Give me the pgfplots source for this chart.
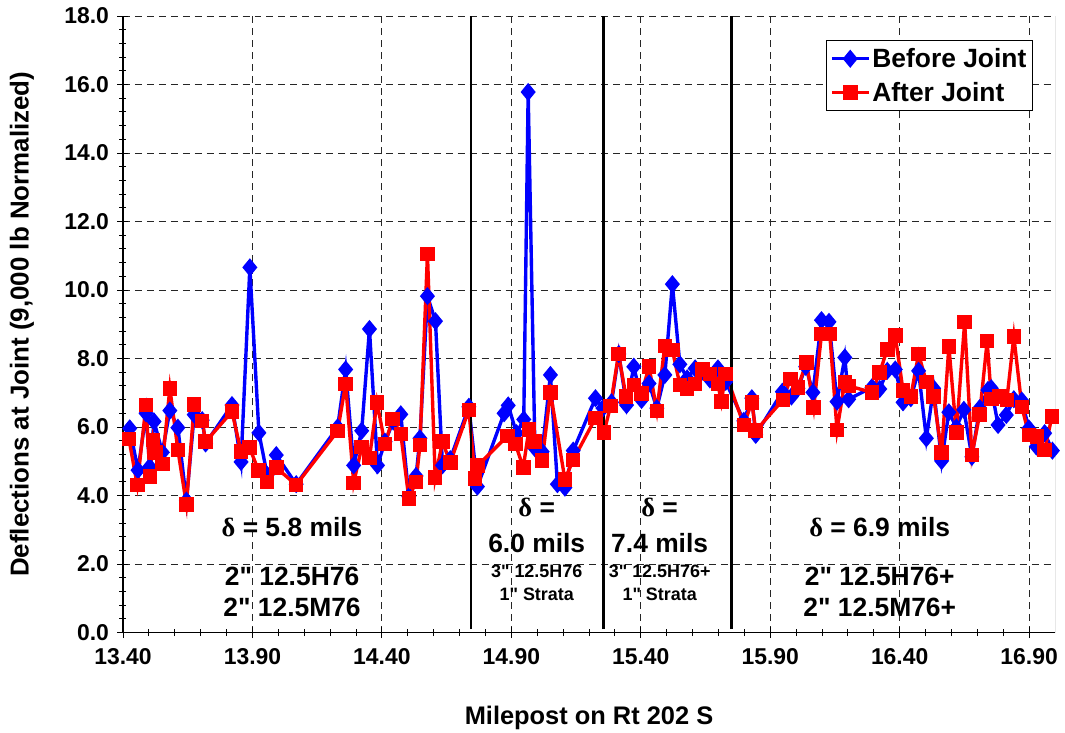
\documentclass[border=0pt]{standalone}
\usepackage{pgfplots}
\pgfplotsset{compat=1.18}
\usepackage{fontspec}
\setmainfont{Liberation Sans}
\newfontfamily\greek{Liberation Serif}
\definecolor{bl}{RGB}{0,0,255}
\definecolor{rd}{RGB}{255,0,0}

\pgfplotstableread{
x y
13.426 5.96
13.458 4.74
13.489 6.40
13.503 4.84
13.520 6.16
13.552 5.26
13.581 6.48
13.612 5.98
13.645 3.85
13.675 6.36
13.706 6.20
13.719 5.52
13.821 6.64
13.856 4.98
13.890 10.66
13.925 5.83
13.957 4.60
13.992 5.18
14.069 4.33
14.229 5.99
14.260 7.68
14.291 4.88
14.322 5.89
14.352 8.86
14.383 4.88
14.412 5.57
14.444 6.16
14.473 6.37
14.504 3.97
14.532 4.57
14.547 5.67
14.576 9.82
14.607 9.09
14.634 4.88
14.664 5.06
14.736 6.59
14.769 4.26
14.872 6.40
14.888 6.63
14.920 5.82
14.948 6.22
14.965 15.78
14.991 5.38
15.019 5.28
15.051 7.52
15.078 4.33
15.107 4.23
15.139 5.31
15.225 6.84
15.254 6.55
15.287 6.72
15.315 8.13
15.345 6.64
15.373 7.76
15.403 6.79
15.432 7.27
15.462 6.55
15.493 7.52
15.522 10.17
15.551 7.83
15.579 7.42
15.610 7.71
15.638 7.62
15.667 7.39
15.698 7.71
15.728 7.32
15.798 6.18
15.829 6.84
15.844 5.77
15.947 7.03
15.982 6.89
16.007 7.13
16.037 7.76
16.065 7.01
16.098 9.12
16.127 9.07
16.158 6.74
16.188 8.03
16.203 6.81
16.293 7.16
16.323 7.11
16.352 7.64
16.383 7.68
16.413 6.72
16.443 6.84
16.473 7.64
16.503 5.67
16.531 7.13
16.562 5.01
16.590 6.43
16.619 5.99
16.648 6.50
16.679 5.13
16.709 6.55
16.741 7.08
16.754 7.13
16.780 6.06
16.812 6.35
16.841 6.81
16.872 6.77
16.899 5.96
16.928 5.43
16.960 5.82
16.990 5.31
}\before

\pgfplotstableread{
x y
13.423 5.65
13.455 4.31
13.489 6.64
13.504 4.55
13.516 5.62
13.525 5.25
13.552 4.92
13.581 7.13
13.612 5.33
13.645 3.74
13.675 6.66
13.706 6.18
13.719 5.57
13.821 6.45
13.856 5.28
13.889 5.40
13.923 4.73
13.956 4.40
13.992 4.81
14.069 4.31
14.229 5.88
14.260 7.26
14.291 4.37
14.322 5.41
14.352 5.10
14.381 6.72
14.412 5.50
14.441 6.23
14.473 5.80
14.504 3.92
14.532 4.40
14.547 5.47
14.576 11.05
14.606 4.52
14.634 5.57
14.664 4.96
14.736 6.50
14.760 4.50
14.770 4.87
14.885 5.74
14.916 5.50
14.946 4.82
14.968 5.93
14.991 5.57
15.019 5.02
15.051 7.01
15.107 4.47
15.139 5.04
15.225 6.26
15.258 5.84
15.283 6.61
15.314 8.13
15.343 6.89
15.374 7.23
15.403 6.98
15.432 7.76
15.462 6.47
15.493 8.37
15.522 8.25
15.551 7.23
15.579 7.13
15.610 7.25
15.638 7.68
15.667 7.55
15.698 7.26
15.711 6.74
15.728 7.55
15.798 6.06
15.829 6.72
15.844 5.89
15.949 6.79
15.978 7.40
16.007 7.16
16.040 7.89
16.068 6.57
16.098 8.71
16.130 8.71
16.158 5.91
16.188 7.32
16.203 7.20
16.293 7.01
16.323 7.59
16.352 8.27
16.383 8.67
16.413 7.06
16.443 6.89
16.473 8.13
16.503 7.32
16.531 6.89
16.562 5.25
16.590 8.35
16.619 5.84
16.651 9.06
16.679 5.18
16.709 6.37
16.738 8.51
16.754 6.82
16.786 6.89
16.814 6.79
16.841 8.64
16.872 6.59
16.899 5.77
16.930 5.72
16.960 5.33
16.988 6.30
}\after

\begin{document}
\begin{tikzpicture}
\begin{axis}[name=ax, scale only axis, width=932bp, height=616.5bp,
  xmin=13.4, xmax=17.0, ymin=0, ymax=18,
  xtick={13.4,13.9,14.4,14.9,15.4,15.9,16.4,16.9},
  ytick={0,2,4,6,8,10,12,14,16,18},
  minor x tick num=4, minor y tick num=4,
  axis x line*=bottom, axis y line*=left,
  axis line style={-, black, line width=1.2pt},
  grid=major,
  major grid style={black!85, line width=0.8pt, dash pattern=on 7pt off 5pt},
  tick align=center, major tick length=11bp, minor tick length=7bp,
  tick style={black, line width=0.8pt},
  /pgf/number format/assume math mode=true,
  xticklabel style={font=\bfseries\fontsize{23}{27}\selectfont, yshift=-7bp, /pgf/number format/.cd, fixed, fixed zerofill, precision=2},
  yticklabel style={font=\bfseries\fontsize{23}{27}\selectfont, xshift=-5bp, /pgf/number format/.cd, fixed, fixed zerofill, precision=1},
  xlabel={Milepost on Rt 202 S},
  xlabel style={font=\bfseries\fontsize{25.5}{30}\selectfont, at={(axis description cs:0.5,-0.1387)}, anchor=center},
  ylabel={Deflections at Joint (9,000 lb Normalized)},
  ylabel style={font=\bfseries\fontsize{26}{30}\selectfont, at={(axis description cs:-0.1084,0.5)}, anchor=center},
  legend style={at={(rel axis cs:0.754,0.961)}, anchor=north west, draw=black, line width=0.8pt,
    font=\bfseries\fontsize{26.5}{31}\selectfont, inner xsep=4bp, inner ysep=6bp, row sep=9bp, fill=white},
  legend cell align=left,
  legend image code/.code={\draw[mark repeat=2,mark phase=2] plot coordinates {(0cm,0cm) (0.65cm,0cm) (1.3cm,0cm)};},
]
\draw[black!75, line width=1pt] (rel axis cs:1,0) -- (rel axis cs:1,1);
\addplot[bl, line width=3.4pt, mark=diamond*, mark size=6.5pt, mark options={solid, fill=bl, xscale=1.1}] table {\before};
\addlegendentry{Before Joint}
\addplot[rd, line width=3.4pt, mark=square*, mark size=5.6pt, mark options={solid, fill=rd}] table {\after};
\addlegendentry{After Joint}
\draw[black, line width=2.5pt] (axis cs:14.745,0.1) -- (axis cs:14.745,18);
\draw[black, line width=2.5pt] (axis cs:15.256,0.1) -- (axis cs:15.256,18);
\draw[black, line width=2.5pt] (axis cs:15.750,0.1) -- (axis cs:15.750,18);
\node[font=\bfseries\fontsize{26.5}{30}\selectfont] at (axis cs:14.053,3.08) {{\greek δ} = 5.8 mils};
\node[font=\bfseries\fontsize{26.5}{30}\selectfont] at (axis cs:14.053,1.65) {2\textquotedbl{} 12.5H76};
\node[font=\bfseries\fontsize{26.5}{30}\selectfont] at (axis cs:14.053,0.72) {2\textquotedbl{} 12.5M76};
\node[font=\bfseries\fontsize{26.5}{30}\selectfont] at (axis cs:14.998,3.64) {{\greek δ} =};
\node[font=\bfseries\fontsize{26.5}{30}\selectfont] at (axis cs:14.998,2.61) {6.0 mils};
\node[font=\bfseries\fontsize{18}{21}\selectfont] at (axis cs:14.998,1.80) {3\textquotedbl{} 12.5H76};
\node[font=\bfseries\fontsize{18}{21}\selectfont] at (axis cs:14.998,1.12) {1\textquotedbl{} Strata};
\node[font=\bfseries\fontsize{26.5}{30}\selectfont] at (axis cs:15.473,3.64) {{\greek δ} =};
\node[font=\bfseries\fontsize{26.5}{30}\selectfont] at (axis cs:15.473,2.61) {7.4 mils};
\node[font=\bfseries\fontsize{18}{21}\selectfont] at (axis cs:15.473,1.80) {3\textquotedbl{} 12.5H76+};
\node[font=\bfseries\fontsize{18}{21}\selectfont] at (axis cs:15.473,1.12) {1\textquotedbl{} Strata};
\node[font=\bfseries\fontsize{26.5}{30}\selectfont] at (axis cs:16.323,3.08) {{\greek δ} = 6.9 mils};
\node[font=\bfseries\fontsize{26.5}{30}\selectfont] at (axis cs:16.323,1.65) {2\textquotedbl{} 12.5H76+};
\node[font=\bfseries\fontsize{26.5}{30}\selectfont] at (axis cs:16.323,0.72) {2\textquotedbl{} 12.5M76+};
\end{axis}
\pgfresetboundingbox
\path ([xshift=-123bp,yshift=-100.5bp]ax.south west) rectangle ([xshift=10bp,yshift=16bp]ax.north east);
\end{tikzpicture}
\end{document}
